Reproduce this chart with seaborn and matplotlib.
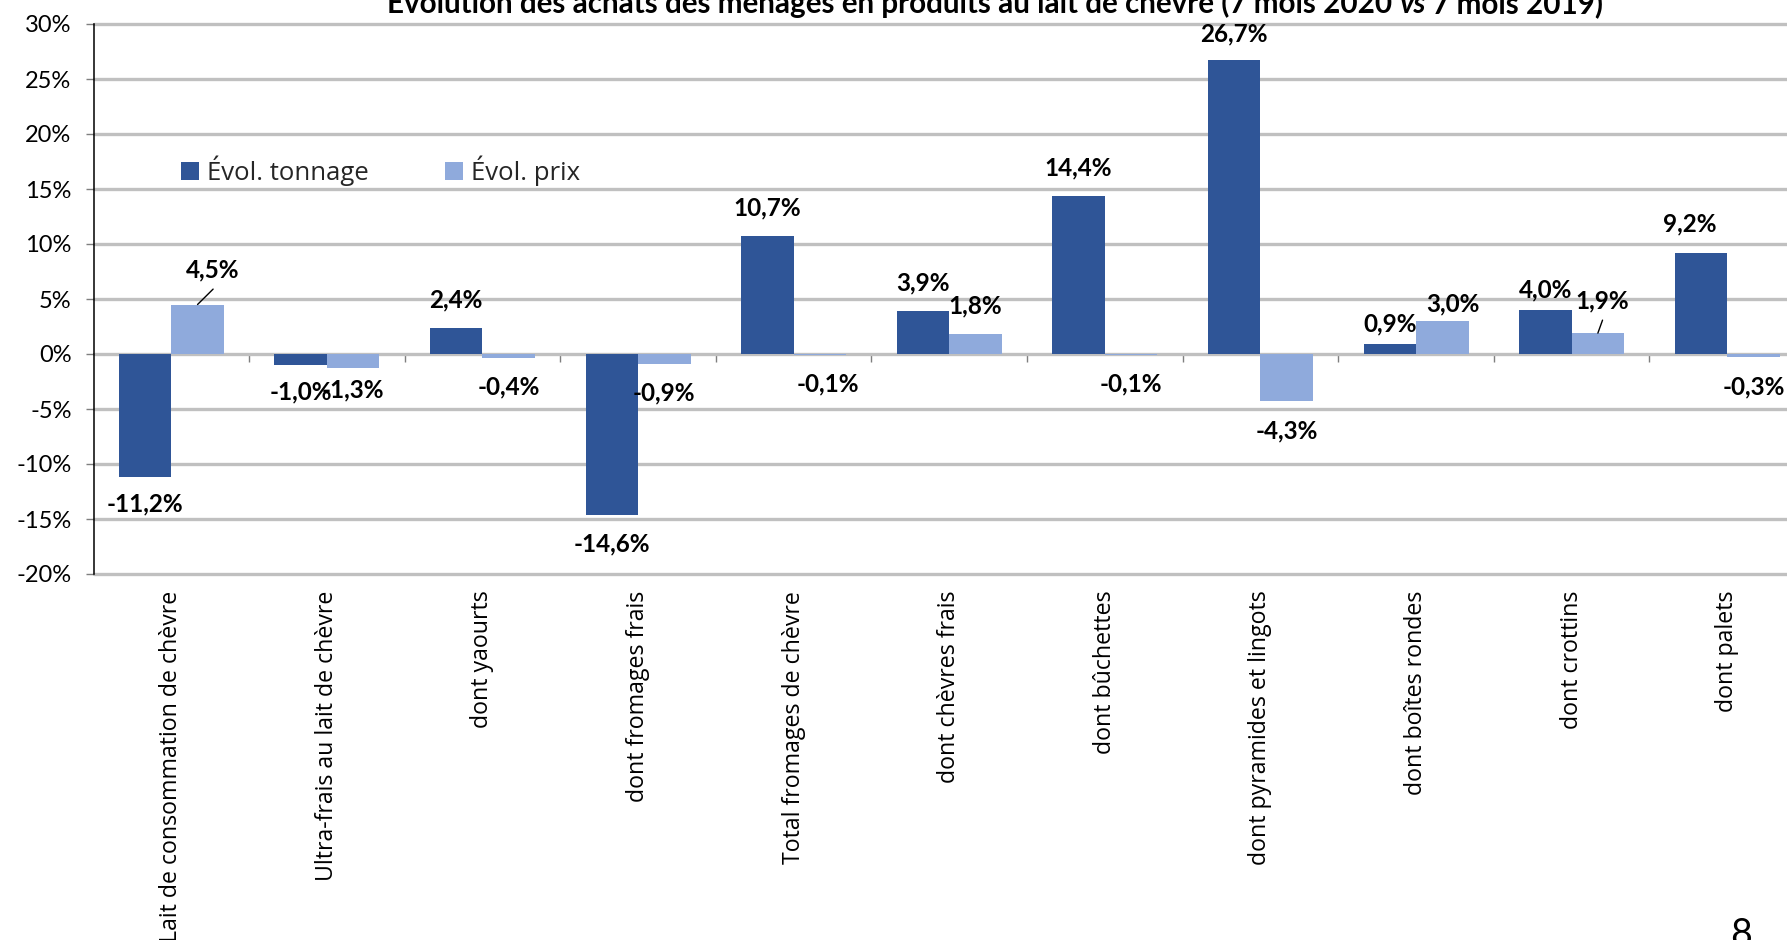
import matplotlib
matplotlib.use("Agg")
import matplotlib.pyplot as plt
import pandas as pd
import seaborn as sns
from matplotlib.patches import Patch

# ---------------- data ----------------
categories = [
    "Lait de consommation de chèvre",
    "Ultra-frais au lait de chèvre",
    "dont yaourts",
    "dont fromages frais",
    "Total fromages de chèvre",
    "dont chèvres frais",
    "dont bûchettes",
    "dont pyramides et lingots",
    "dont boîtes rondes",
    "dont crottins",
    "dont palets",
]
tonnage = [-11.2, -1.0, 2.4, -14.6, 10.7, 3.9, 14.4, 26.7, 0.9, 4.0, 9.2]
prix = [4.5, -1.3, -0.4, -0.9, -0.1, 1.8, -0.1, -4.3, 3.0, 1.9, -0.3]
series_names = ["Évol. tonnage", "Évol. prix"]
y_ticks = [-20, -15, -10, -5, 0, 5, 10, 15, 20, 25, 30]
title_parts = ["Évolution des achats des ménages en produits au lait de chèvre (7 mois 2020 ",
               "vs", " 7 mois 2019)"]
title_styles = ["normal", "italic", "normal"]
page_number = "8"

# ---------------- label layout (offsets from bar ends) ----------------
ton_dy = [-2.4, -2.45, 2.5, -2.65, 2.6, 2.55, 2.55, 2.4, 1.8, 1.82, 2.65]
prix_dy = [3.1, -1.95, -2.6, -2.65, -2.6, 2.57, -2.6, -2.66, 1.57, 2.88, -2.7]
ton_dx = [0, 0, 0, 0, 0, 0, 0, 0, 0, 0, -0.073]
prix_dx = [0.10, 0, 0, 0, 0.05, 0, 0, 0, 0.067, 0.03, 0]
prix_leader = [True, False, False, False, False, False, False, False, False, True, False]

DARK = "#2F5597"
LIGHT = "#8FAADC"
W, H = 1787, 940

sns.set_theme(style="white")
plt.rcParams["font.family"] = ["Lato", "DejaVu Sans"]

fig = plt.figure(figsize=(W / 100, H / 100), dpi=100)
left, right = 93.5 / W, 1805 / W
bottom, top = 1 - 574 / H, 1 - 24 / H
ax = fig.add_axes([left, bottom, right - left, top - bottom])

df = pd.DataFrame({
    "cat": categories * 2,
    "val": tonnage + prix,
    "serie": [series_names[0]] * len(categories) + [series_names[1]] * len(categories),
})
sns.barplot(data=df, x="cat", y="val", hue="serie", order=categories,
            hue_order=series_names, palette=[DARK, LIGHT], width=0.675, gap=0,
            saturation=1, legend=False, errorbar=None, linewidth=0, ax=ax)

ax.set_xlim(-0.5, len(categories) - 0.5)
ax.set_ylim(y_ticks[0], y_ticks[-1])
ax.set_yticks(y_ticks)
ax.set_yticklabels([f"{t}%" for t in y_ticks])
ax.yaxis.grid(True, color="#C0C0C0", linewidth=2.4)
for gl in ax.get_ygridlines():
    gl.set_clip_on(False)
ax.set_axisbelow(True)
for s in ["top", "right", "bottom"]:
    ax.spines[s].set_visible(False)
ax.spines["left"].set_color("black")
ax.spines["left"].set_linewidth(1.1)
ax.spines["left"].set_zorder(4)
ax.tick_params(axis="y", direction="out", length=5.8, width=1, color="#7F7F7F",
               pad=10, labelsize=17, labelcolor="black", left=True)
ax.tick_params(axis="x", length=0, pad=12)
ax.set_xticks(range(len(categories)))
ax.set_xticklabels(categories, rotation=90, fontfamily="Open Sans", fontsize=16.7,
                   color="black")
ax.set_xlabel("")
ax.set_ylabel("")

# zero axis line with boundary ticks
zero_frac = (0 - y_ticks[0]) / (y_ticks[-1] - y_ticks[0])
sec = ax.secondary_xaxis(zero_frac)
sec.set_xticks([k - 0.5 for k in range(1, len(categories))])
sec.set_xticklabels([])
sec.tick_params(direction="out", length=5.8, width=1, color="#7F7F7F")
sec.spines["bottom"].set_color("black")
sec.spines["bottom"].set_linewidth(1.3)

# data labels
def fmt(v):
    return f"{v:.1f}%".replace(".", ",")

for cont, vals, dxs, dys, leads in [
    (ax.containers[0], tonnage, ton_dx, ton_dy, [False] * len(tonnage)),
    (ax.containers[1], prix, prix_dx, prix_dy, prix_leader),
]:
    for rect, v, dx, dy, lead in zip(cont, vals, dxs, dys, leads):
        xc = rect.get_x() + rect.get_width() / 2
        ax.text(xc + dx, v + dy, fmt(v), ha="center", va="center",
                fontweight="bold", fontsize=17.5, color="black", zorder=6)
        if lead:
            ax.plot([xc, xc + dx], [v, v + dy - 1.7], color="black", lw=1, zorder=6)

# legend
handles = [Patch(facecolor=DARK, linewidth=0), Patch(facecolor=LIGHT, linewidth=0)]
ax.legend(handles, series_names, loc="center left", bbox_to_anchor=(0.0511, 0.7327),
          ncol=2, frameon=False, prop={"family": "Open Sans", "size": 18.5},
          handlelength=0.7, handleheight=0.7, handletextpad=0.3, columnspacing=3.0,
          borderpad=0, borderaxespad=0)

# title (clipped at top like the reference)
texts = []
for p, st in zip(title_parts, title_styles):
    texts.append(fig.text(0, 1 - 12.7 / H, p, fontsize=21.3, fontweight="bold",
                          style=st, va="baseline", ha="left", color="black"))
renderer = fig.canvas.get_renderer()
widths = [t.get_window_extent(renderer).width for t in texts]
x0 = 995 - sum(widths) / 2
for t, w in zip(texts, widths):
    t.set_x(x0 / W)
    x0 += w

fig.text(1741 / W, -0.006, page_number, fontsize=27, ha="center", va="baseline",
         fontfamily="Lato", color="black")

fig.savefig("out.png", dpi=100)
